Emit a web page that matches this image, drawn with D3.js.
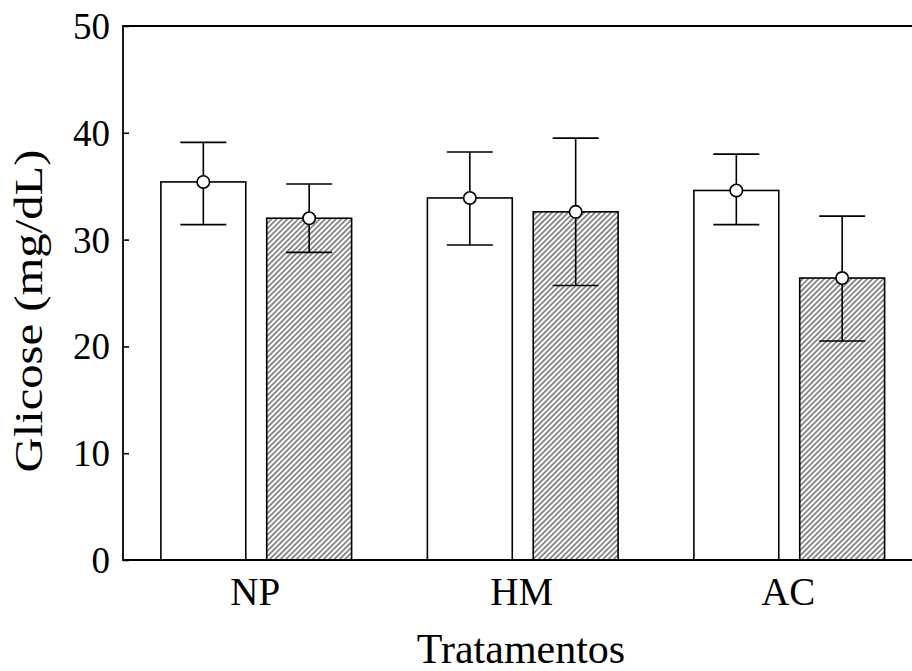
<!DOCTYPE html>
<html lang="en">
<head>
  <meta charset="UTF-8" />
  <title>Glicose</title>
  <script src="https://d3js.org/d3.v7.min.js"></script>
  <style>
    body { margin: 0; background: #fff; }
    svg { display: block; }
    text { font-family: "Liberation Serif", "Times New Roman", serif; fill: #000; }
  </style>
</head>
<body>
<script>
  // categories and values
  var categories = ["NP", "HM", "AC"];
  var groups = ["branco", "hachurado"];
  var meanWhite = [35.4, 33.9, 34.6];
  var hiWhite = [39.1, 38.2, 38.0];
  var loWhite = [31.4, 29.5, 31.4];
  var meanHatch = [32.0, 32.6, 26.4];
  var hiHatch = [35.2, 39.5, 32.2];
  var loHatch = [28.8, 25.7, 20.5];
  var yTicks = [0, 10, 20, 30, 40, 50];

  var width = 912, height = 671;
  // plot edges (the right edge lies outside the picture)
  var plotLeft = 123, plotRight = 922.5, plotTop = 26, plotBottom = 560;

  var svg = d3.select("body").append("svg")
    .attr("width", width)
    .attr("height", height);

  // hatch pattern
  svg.append("defs").append("pattern")
    .attr("id", "hatch")
    .attr("patternUnits", "userSpaceOnUse")
    .attr("width", 3.8)
    .attr("height", 3.8)
    .attr("patternTransform", "rotate(45)")
    .call(function (p) {
      p.append("rect").attr("width", 3.8).attr("height", 3.8).attr("fill", "#fff");
      p.append("line")
        .attr("x1", 1).attr("y1", 0).attr("x2", 1).attr("y2", 3.8)
        .attr("stroke", "#333").attr("stroke-width", 1.1);
    });

  var x = d3.scaleBand().domain(categories).range([plotLeft, plotRight]).padding(0);
  var xInner = d3.scaleBand().domain(groups).range([0, x.bandwidth()])
    .paddingInner(0.198).paddingOuter(0.358);
  var y = d3.scaleLinear().domain([0, 50]).range([plotBottom, plotTop]);

  var rows = [];
  categories.forEach(function (c, i) {
    rows.push({ cat: c, g: "branco", mean: meanWhite[i], hi: hiWhite[i], lo: loWhite[i] });
    rows.push({ cat: c, g: "hachurado", mean: meanHatch[i], hi: hiHatch[i], lo: loHatch[i] });
  });

  // bars
  svg.selectAll(".bar").data(rows).enter().append("rect")
    .attr("class", "bar")
    .attr("x", function (d) { return x(d.cat) + xInner(d.g); })
    .attr("y", function (d) { return y(d.mean); })
    .attr("width", xInner.bandwidth())
    .attr("height", function (d) { return y(0) - y(d.mean); })
    .attr("fill", function (d) { return d.g === "branco" ? "#fff" : "url(#hatch)"; })
    .attr("stroke", "#000")
    .attr("stroke-width", 1.6);

  // error bars
  var cx = function (d) { return x(d.cat) + xInner(d.g) + xInner.bandwidth() / 2; };
  var capW = 23;
  var eb = svg.selectAll(".err").data(rows).enter().append("g").attr("class", "err")
    .attr("stroke", "#000").attr("stroke-width", 1.6);
  eb.append("line")
    .attr("x1", cx).attr("x2", cx)
    .attr("y1", function (d) { return y(d.hi); })
    .attr("y2", function (d) { return y(d.lo); });
  eb.append("line")
    .attr("x1", function (d) { return cx(d) - capW; })
    .attr("x2", function (d) { return cx(d) + capW; })
    .attr("y1", function (d) { return y(d.hi); })
    .attr("y2", function (d) { return y(d.hi); });
  eb.append("line")
    .attr("x1", function (d) { return cx(d) - capW; })
    .attr("x2", function (d) { return cx(d) + capW; })
    .attr("y1", function (d) { return y(d.lo); })
    .attr("y2", function (d) { return y(d.lo); });
  eb.append("circle")
    .attr("cx", cx)
    .attr("cy", function (d) { return y(d.mean); })
    .attr("r", 6.2)
    .attr("fill", "#fff");

  // frame
  svg.append("path")
    .attr("d", "M" + (plotRight + 10) + "," + plotTop + "H" + plotLeft + "V" + plotBottom + "H" + (plotRight + 10))
    .attr("fill", "none")
    .attr("stroke", "#000")
    .attr("stroke-width", 1.8);

  // y axis
  var yAxis = svg.append("g")
    .attr("transform", "translate(" + plotLeft + ",0)")
    .call(d3.axisLeft(y).tickValues(yTicks).tickSizeInner(-6).tickSizeOuter(0).tickPadding(13));
  yAxis.select(".domain").remove();
  yAxis.selectAll(".tick line").attr("stroke-width", 1.6);
  yAxis.selectAll("text")
    .attr("font-family", "Liberation Serif, serif")
    .attr("font-size", 37)
    .attr("dy", "0.34em");

  // x axis labels
  var xAxis = svg.append("g")
    .attr("transform", "translate(0," + plotBottom + ")")
    .call(d3.axisBottom(x).tickSize(0).tickPadding(0));
  xAxis.select(".domain").remove();
  xAxis.selectAll("text")
    .attr("font-family", "Liberation Serif, serif")
    .attr("font-size", 39)
    .attr("x", -1)
    .attr("y", 45)
    .attr("dy", 0);

  // axis titles
  svg.append("text")
    .attr("x", 521)
    .attr("y", 663)
    .attr("text-anchor", "middle")
    .attr("font-size", 42)
    .text("Tratamentos");

  svg.append("text")
    .attr("transform", "translate(42,311) rotate(-90)")
    .attr("text-anchor", "middle")
    .attr("font-size", 41)
    .attr("textLength", 323)
    .attr("lengthAdjust", "spacingAndGlyphs")
    .text("Glicose (mg/dL)");
</script>
</body>
</html>
